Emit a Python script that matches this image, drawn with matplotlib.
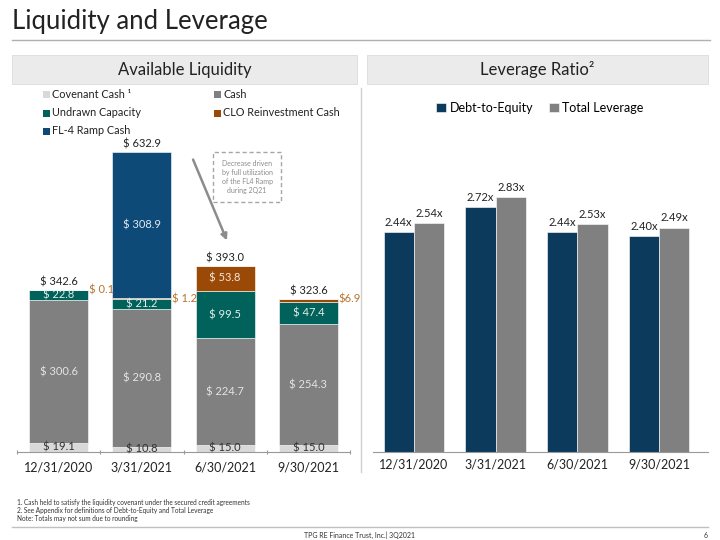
import matplotlib
matplotlib.use("Agg")
import matplotlib.pyplot as plt
from matplotlib.patches import Rectangle, FancyArrowPatch
import numpy as np

plt.rcParams.update({"font.family": ["Lato", "DejaVu Sans"], "font.size": 8})

dates = ["12/31/2020", "3/31/2021", "6/30/2021", "9/30/2021"]
covenant = [19.1, 10.8, 15.0, 15.0]
cash = [300.6, 290.8, 224.7, 254.3]
undrawn = [22.8, 21.2, 99.5, 47.4]
clo = [0.1, 1.2, 53.8, 6.9]
fl4 = [0.0, 308.9, 0.0, 0.0]
totals = [342.6, 632.9, 393.0, 323.6]

debt_to_equity = [2.44, 2.72, 2.44, 2.40]
total_leverage = [2.54, 2.83, 2.53, 2.49]

C_COV, C_CASH, C_UND, C_CLO, C_FL4 = "#d9d9d9", "#808080", "#00625b", "#9a4a06", "#0d4a78"
C_DE, C_TL = "#0b3a5c", "#808080"

W, H = 720, 540
fig = plt.figure(figsize=(7.2, 5.4), dpi=100)
def fx(x): return x / W
def fy(y): return 1 - y / H

# title + rules
fig.text(fx(12), fy(22), "Liquidity and Leverage", fontsize=18.5, va="center", ha="left", color="#222")
fig.add_artist(plt.Line2D([fx(12), fx(710)], [fy(40), fy(40)], color="#b0b0b0", lw=1))
for x0, x1, t in [(12, 357, "Available Liquidity"), (367, 708, "Leverage Ratio²")]:
    fig.add_artist(Rectangle((fx(x0), fy(84)), fx(x1 - x0), (84 - 55) / H, transform=fig.transFigure,
                             facecolor="#ebebeb", edgecolor="#dcdcdc", lw=0.6))
    fig.text(fx((x0 + x1) / 2), fy(69.5), t, ha="center", va="center", fontsize=12, color="#222")
fig.add_artist(plt.Line2D([fx(361), fx(361)], [fy(88), fy(472)], color="#d0d0d0", lw=1))

# ---- left: available liquidity
ax = fig.add_axes([fx(17), 88 / H, fx(333), 313 / H])
x = np.arange(len(dates))
bw = 0.71
series = [(covenant, C_COV), (cash, C_CASH), (undrawn, C_UND), (clo, C_CLO), (fl4, C_FL4)]
bottom = np.zeros(len(dates))
bottoms = []
for vals, c in series:
    ax.bar(x, vals, bw, bottom=bottom, color=c, edgecolor="white", linewidth=0.4)
    bottoms.append(bottom.copy())
    bottom += np.array(vals)
ax.set_xlim(-0.5, 3.5)
ax.set_ylim(0, 660)
for i in range(len(dates)):
    ax.text(x[i], bottoms[0][i] + covenant[i] / 2, f"$ {covenant[i]:.1f}", ha="center", va="center", color="#333", fontsize=8)
    ax.text(x[i], bottoms[1][i] + cash[i] / 2, f"$ {cash[i]:.1f}", ha="center", va="center", color="#e4e4e4", fontsize=8)
    ax.text(x[i], bottoms[2][i] + undrawn[i] / 2, f"$ {undrawn[i]:.1f}", ha="center", va="center", color="#e4efe9", fontsize=8)
    if clo[i] > 20:
        ax.text(x[i], bottoms[3][i] + clo[i] / 2, f"$ {clo[i]:.1f}", ha="center", va="center", color="#f3e6da", fontsize=8)
    else:
        lbl = f"$ {clo[i]:.1f}" if i < 3 else f"${clo[i]:.1f}"
        ax.text(x[i] + bw / 2 + 0.01, bottoms[3][i] + clo[i] - 2, lbl, ha="left", va="center", color="#b8732e", fontsize=8)
    if fl4[i] > 0:
        ax.text(x[i], bottoms[4][i] + fl4[i] / 2, f"$ {fl4[i]:.1f}", ha="center", va="center", color="#e0e8f0", fontsize=8)
    ax.text(x[i], totals[i] + 5, f"$ {totals[i]:.1f}", ha="center", va="bottom", color="#222", fontsize=8)
for s in ["top", "right", "left"]:
    ax.spines[s].set_visible(False)
ax.spines["bottom"].set_color("#999")
ax.set_yticks([])
ax.set_xticks(np.arange(-0.5, 4, 1), minor=False)
ax.set_xticklabels([])
ax.tick_params(axis="x", length=3, color="#999", direction="inout")
for i, d in enumerate(dates):
    ax.text(x[i], -19, d, ha="center", va="top", fontsize=9, color="#222")

# annotation
fig.add_artist(FancyArrowPatch((fx(192), fy(157)), (fx(228), fy(243)), transform=fig.transFigure,
                               arrowstyle="-|>", mutation_scale=9, color="#8c8c8c", lw=1.8))
fig.add_artist(Rectangle((fx(213), fy(202)), fx(68), 50 / H, transform=fig.transFigure,
                         facecolor="none", edgecolor="#a6a6a6", lw=1, ls=(0, (3, 2))))
fig.text(fx(247), fy(177), "Decrease driven\nby full utilization\nof the FL4 Ramp\nduring 2Q21",
         ha="center", va="center", fontsize=5, color="#8c8c8c", linespacing=1.35)

# left legend
leg = [("Covenant Cash ¹", C_COV, 43, 95), ("Cash", C_CASH, 214, 95),
       ("Undrawn Capacity", C_UND, 43, 113), ("CLO Reinvestment Cash", C_CLO, 214, 113),
       ("FL-4 Ramp Cash", C_FL4, 43, 131)]
for name, c, lx, ly in leg:
    fig.add_artist(Rectangle((fx(lx), fy(ly + 3.5)), fx(7), 7 / H, transform=fig.transFigure,
                             facecolor=c, edgecolor="none"))
    fig.text(fx(lx + 9), fy(ly), name, ha="left", va="center", fontsize=7.8, color="#222")

# ---- right: leverage ratio
ax2 = fig.add_axes([fx(373), 88 / H, fx(335), 288 / H])
w2 = 0.37
b1 = ax2.bar(x - w2 / 2, debt_to_equity, w2, color=C_DE, edgecolor="white", linewidth=0.4)
b2 = ax2.bar(x + w2 / 2, total_leverage, w2, color=C_TL, edgecolor="white", linewidth=0.4)
ax2.set_xlim(-0.5, 3.6)
ax2.set_ylim(0, 3.2)
for bars, vals in [(b1, debt_to_equity), (b2, total_leverage)]:
    for r, v in zip(bars, vals):
        ax2.text(r.get_x() + r.get_width() / 2, v + 0.05, f"{v:.2f}x", ha="center", va="bottom", fontsize=8, color="#222")
for s in ["top", "right", "left"]:
    ax2.spines[s].set_visible(False)
ax2.spines["bottom"].set_color("#999")
ax2.set_yticks([])
ax2.set_xticks(x)
ax2.set_xticklabels(dates, fontsize=9, color="#222")
ax2.tick_params(axis="x", length=0, pad=5)
ax2.legend([b1, b2], ["Debt-to-Equity", "Total Leverage"], loc="center", bbox_to_anchor=(fx(540), fy(108)),
           bbox_transform=fig.transFigure, ncol=2, frameon=False, fontsize=9, handlelength=0.8,
           handleheight=0.8, handletextpad=0.3, columnspacing=1.2)

# footnotes / footer
fig.text(fx(17), fy(503), "1. Cash held to satisfy the liquidity covenant under the secured credit agreements", fontsize=4.7, color="#333", va="center")
fig.text(fx(17), fy(511), "2. See Appendix for definitions of Debt-to-Equity and Total Leverage", fontsize=4.7, color="#333", va="center")
fig.text(fx(17), fy(519), "Note: Totals may not sum due to rounding", fontsize=4.7, color="#333", va="center")
fig.add_artist(plt.Line2D([fx(12), fx(708)], [fy(527), fy(527)], color="#c0c0c0", lw=1))
fig.text(fx(360), fy(535), "TPG RE Finance Trust, Inc.| 3Q2021", fontsize=5, color="#333", ha="center", va="center")
fig.text(fx(706), fy(535), "6", fontsize=5, color="#333", ha="center", va="center")

fig.savefig("out.png", dpi=100)
